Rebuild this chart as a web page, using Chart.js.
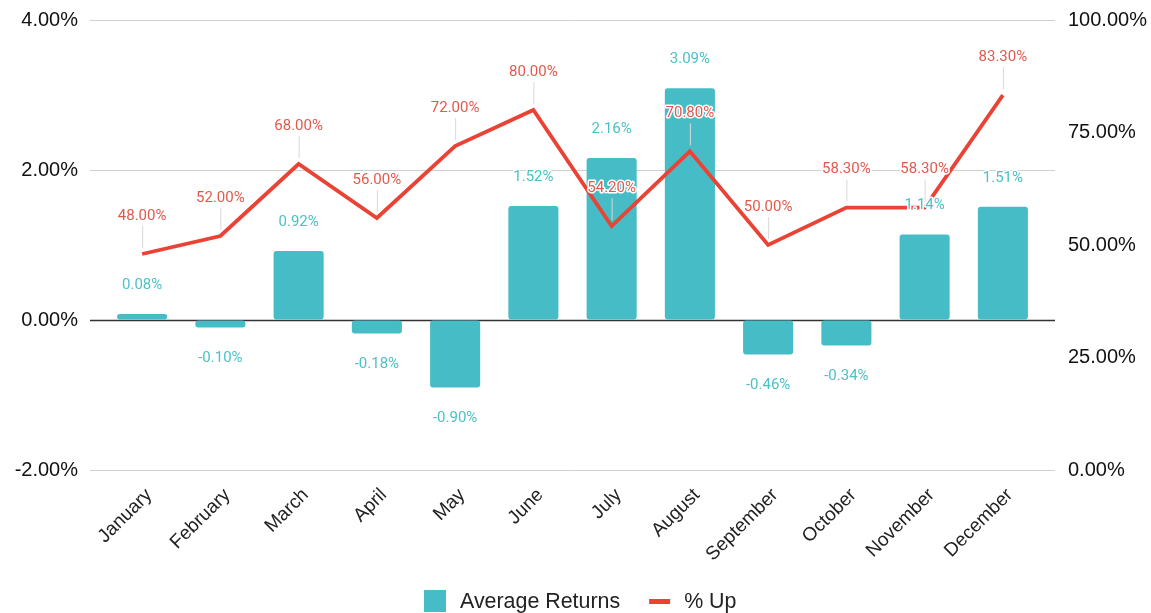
<!DOCTYPE html>
<html>
<head>
<meta charset="utf-8">
<script src="https://cdn.jsdelivr.net/npm/chart.js@4/dist/chart.umd.min.js"></script>
<style>
  html, body { margin: 0; padding: 0; background: #fff; }
  #wrap { width: 1151px; height: 613px; }
</style>
</head>
<body>
<div id="wrap"><canvas id="chart-returns"></canvas></div>
<script>
const months = ['January', 'February', 'March', 'April', 'May', 'June', 'July',
    'August', 'September', 'October', 'November', 'December'];
const avgReturns = [0.08, -0.10, 0.92, -0.18, -0.90, 1.52, 2.16, 3.09, -0.46, -0.34, 1.14, 1.51];
const pctUp = [48.00, 52.00, 68.00, 56.00, 72.00, 80.00, 54.20, 70.80, 50.00, 58.30, 58.30, 83.30];
const leftTicks = [-2, 0, 2, 4];
const rightTicks = [0, 25, 50, 75, 100];

const TEAL = '#46bdc6';
const RED = '#ea4335';
const FONT = 'Arial, "Liberation Sans", sans-serif';
const NONE = 'rgba(0,0,0,0)';

// gridlines run a bit past the category area, like the sheets export
const wideGrid = {
    id: 'wideGrid',
    beforeDatasetsDraw(chart) {
        const ctx = chart.ctx;
        const y = chart.scales.y;
        const x0 = chart.chartArea.left - 13, x1 = chart.chartArea.right + 13;
        ctx.save();
        leftTicks.forEach((v) => {
            const py = Math.round(y.getPixelForValue(v)) + 0.5;
            ctx.strokeStyle = v === 0 ? '#333' : '#d0d0d0';
            ctx.lineWidth = v === 0 ? 1.5 : 1;
            ctx.beginPath();
            ctx.moveTo(x0, py);
            ctx.lineTo(x1, py);
            ctx.stroke();
        });
        ctx.restore();
    },
};

// value labels with a white halo, small leader line on the line series
const valueLabels = {
    id: 'valueLabels',
    afterDatasetsDraw(chart) {
        const ctx = chart.ctx;
        ctx.save();
        ctx.font = '15px Roboto';
        ctx.textAlign = 'center';
        ctx.textBaseline = 'middle';
        ctx.lineJoin = 'round';
        chart.data.datasets.forEach((ds, i) => {
            const meta = chart.getDatasetMeta(i);
            meta.data.forEach((el, j) => {
                const v = ds.data[j];
                let y;
                if (ds.type === 'line') {
                    y = el.y - 38;
                    ctx.strokeStyle = '#d9d9d9';
                    ctx.lineWidth = 1;
                    ctx.beginPath();
                    ctx.moveTo(el.x + 0.5, el.y - 6);
                    ctx.lineTo(el.x + 0.5, y + 10);
                    ctx.stroke();
                } else {
                    y = v >= 0 ? el.y - 29 : el.y + 31;
                }
                const txt = v.toFixed(2) + '%';
                ctx.strokeStyle = '#fff';
                ctx.lineWidth = 3;
                ctx.strokeText(txt, el.x, y);
                ctx.fillStyle = ds.type === 'line' ? '#e25a4d' : '#4cc1c6';
                ctx.fillText(txt, el.x, y);
            });
        });
        ctx.restore();
    },
};

// legend: teal square + red dash, centred at the bottom
const bottomLegend = {
    id: 'bottomLegend',
    afterDraw(chart) {
        const ctx = chart.ctx;
        const items = [
            { text: 'Average Returns', color: TEAL, box: [22, 22] },
            { text: '% Up', color: RED, box: [21, 5] },
        ];
        ctx.save();
        ctx.font = '21.4px ' + FONT;
        ctx.textBaseline = 'middle';
        const cy = 601;
        const gap = 14, between = 29;
        let total = 0;
        items.forEach((it, k) => {
            it.w = ctx.measureText(it.text).width;
            total += it.box[0] + gap + it.w + (k ? 0 : between);
        });
        let x = Math.round((chart.width - total) / 2) + 5;
        items.forEach((it) => {
            ctx.fillStyle = it.color;
            ctx.fillRect(x, Math.round(cy - it.box[1] / 2), it.box[0], it.box[1]);
            x += it.box[0] + gap;
            ctx.fillStyle = '#222';
            ctx.fillText(it.text, x, cy + 1);
            x += it.w + between;
        });
        ctx.restore();
    },
};

new Chart(document.getElementById('chart-returns'), {
    data: {
        labels: months,
        datasets: [{
            type: 'bar',
            label: 'Average Returns',
            data: avgReturns,
            backgroundColor: TEAL,
            borderRadius: 3,
            borderSkipped: false,
            barPercentage: 0.64,
            categoryPercentage: 1,
            yAxisID: 'y',
            order: 1,
        }, {
            type: 'line',
            label: '% Up',
            data: pctUp,
            borderColor: RED,
            backgroundColor: RED,
            borderWidth: 3.8,
            pointRadius: 0,
            tension: 0,
            yAxisID: 'y1',
            order: 0,
        }],
    },
    options: {
        responsive: true,
        maintainAspectRatio: false,
        animation: false,
        layout: { padding: { top: 0, left: 0, right: 0, bottom: 42 } },
        plugins: {
            tooltip: { enabled: false },
            legend: { display: false },
        },
        scales: {
            x: {
                grid: { display: false },
                border: { display: false },
                afterFit: (s) => { s.height = 101; },
                ticks: {
                    font: { family: FONT, size: 19 },
                    color: '#222',
                    minRotation: 45,
                    maxRotation: 45,
                    padding: 6,
                    labelOffset: 7,
                },
            },
            y: {
                position: 'left',
                min: -2,
                max: 4,
                afterBuildTicks: (s) => { s.ticks = leftTicks.map(v => ({ value: v })); },
                afterFit: (s) => { s.width = 103; },
                border: { display: false },
                grid: { color: NONE, drawOnChartArea: false, tickLength: 17 },
                ticks: {
                    padding: 8,
                    color: '#111',
                    font: { family: FONT, size: 20 },
                    callback: (v) => v.toFixed(2) + '%',
                },
            },
            y1: {
                position: 'right',
                min: 0,
                max: 100,
                afterBuildTicks: (s) => { s.ticks = rightTicks.map(v => ({ value: v })); },
                afterFit: (s) => { s.width = 109; },
                border: { display: false },
                grid: { color: NONE, drawOnChartArea: false, tickLength: 18 },
                ticks: {
                    padding: 8,
                    color: '#111',
                    font: { family: FONT, size: 20 },
                    callback: (v) => v.toFixed(2) + '%',
                },
            },
        },
    },
    plugins: [wideGrid, valueLabels, bottomLegend],
});
</script>
</body>
</html>
